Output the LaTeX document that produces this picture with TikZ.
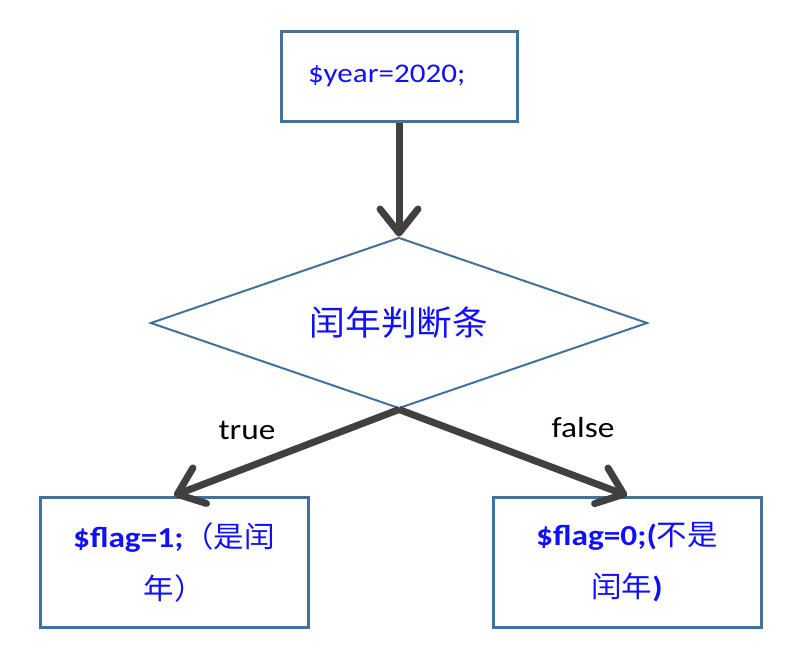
\documentclass[tikz,border=0pt]{standalone}
\usepackage{fontspec}
\setmainfont{Carlito}[FakeStretch=1.15]
\newfontfamily\cjk{Noto Sans CJK SC}[FakeStretch=1.05]
\usetikzlibrary{shapes.geometric,arrows.meta}
\definecolor{bordc}{HTML}{41719C}
\definecolor{txtc}{HTML}{1010FF}
\definecolor{arrc}{HTML}{404040}
\tikzset{
 box/.style={draw=bordc, line width=3pt, minimum width=268pt, minimum height=130pt, inner sep=0pt, align=center, text=txtc},
 conn/.style={draw=arrc, line width=7pt, -{Straight Barb[length=24pt,width=38pt,round]}},
 lbl/.style={font=\fontsize{29}{32}\selectfont, text=black}
}
\begin{document}
\begin{tikzpicture}[x=1pt,y=-1pt]
\useasboundingbox (0,0) rectangle (794,651);
\node[box, minimum width=236pt, minimum height=90pt, text width=182pt, align=left, inner xsep=27pt, font=\fontsize{27}{30}\selectfont] (top) at (399,76) {\$year=2020;};
\node[draw=bordc, line width=2pt, diamond, aspect=2.9, minimum width=497pt, minimum height=171pt, inner sep=0pt, text=txtc, font=\cjk\fontsize{34}{36}\selectfont] (d) at (399,323) {闰年判断条};
\node[box, font=\fontsize{29}{52}\selectfont] (l) at (174,562) {\textbf{\$flag=1;}{\cjk （是闰}\\{\cjk 年）}};
\node[box, font=\fontsize{29}{52}\selectfont] (r) at (627,562) {\textbf{\$flag=0;(}{\cjk 不是}\\{\cjk 闰年}\textbf{)}};
\draw[conn] (top.south) -- (d.north);
\draw[conn] (d.south) -- (l.north);
\draw[conn] (d.south) -- (r.north);
\node[lbl] (tl) at (247,430) {true};
\node[lbl] (fl) at (583,428) {false};
\end{tikzpicture}
\end{document}
